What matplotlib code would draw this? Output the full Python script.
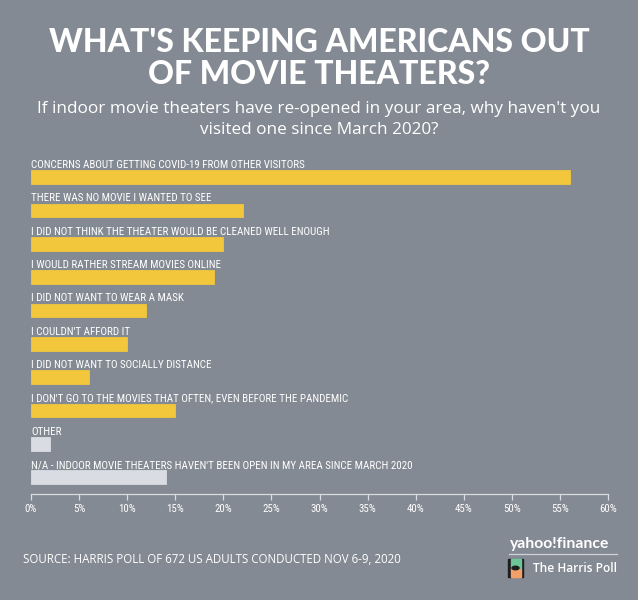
import matplotlib
matplotlib.use("Agg")
import matplotlib.pyplot as plt
from matplotlib import font_manager
from matplotlib.patches import Rectangle, Ellipse

reasons = [
    "CONCERNS ABOUT GETTING COVID-19 FROM OTHER VISITORS",
    "THERE WAS NO MOVIE I WANTED TO SEE",
    "I DID NOT THINK THE THEATER WOULD BE CLEANED WELL ENOUGH",
    "I WOULD RATHER STREAM MOVIES ONLINE",
    "I DID NOT WANT TO WEAR A MASK",
    "I COULDN'T AFFORD IT",
    "I DID NOT WANT TO SOCIALLY DISTANCE",
    "I DON'T GO TO THE MOVIES THAT OFTEN, EVEN BEFORE THE PANDEMIC",
    "OTHER",
    "N/A - INDOOR MOVIE THEATERS HAVEN'T BEEN OPEN IN MY AREA SINCE MARCH 2020",
]
percent = [56, 22, 20, 19, 12, 10, 6, 15, 2, 14]
highlight = [True] * 8 + [False, False]
ticks = list(range(0, 61, 5))

BG = "#848a93"
YELLOW = "#f2c73b"
LIGHT = "#d9dce2"

names = {f.name for f in font_manager.fontManager.ttflist}


def pick(*cands):
    for c in cands:
        if c in names:
            return c
    return "DejaVu Sans"


narrow = pick("Liberation Sans Narrow", "Roboto Condensed", "Open Sans Condensed", "Liberation Sans")
heavy = pick("Lato", "Inter", "Roboto", "DejaVu Sans")
body = pick("Open Sans", "Noto Sans", "DejaVu Sans")

fig = plt.figure(figsize=(6.38, 6.0), dpi=100, facecolor=BG)
ax = fig.add_axes([31 / 638, 1 - 494 / 600, 577 / 638, 339 / 600])
ax.set_facecolor(BG)

ypos = list(range(len(reasons)))
colors = [YELLOW if h else LIGHT for h in highlight]
ax.barh(ypos, percent, height=0.41, color=colors, edgecolor=colors, linewidth=0.6)
for y, lab in zip(ypos, reasons):
    ax.text(0, y - 0.27, lab, color="white", fontsize=7.9, family=narrow,
            ha="left", va="baseline")

ax.set_xlim(0, 60)
ax.set_ylim(9.51, -0.66)
ax.set_xticks(ticks)
ax.set_xticklabels([f"{t}%" for t in ticks], family=narrow, fontsize=7.8, color="white")
ax.set_yticks([])
for s in ["top", "right", "left"]:
    ax.spines[s].set_visible(False)
ax.spines["bottom"].set_color(LIGHT)
ax.spines["bottom"].set_linewidth(0.9)
ax.tick_params(axis="x", direction="out", length=4, width=0.9, color=LIGHT, pad=3)

fig.text(0.5, 1 - 52 / 600, "WHAT'S KEEPING AMERICANS OUT", ha="center", va="baseline",
         color="white", fontsize=23, fontweight="black", family=heavy)
fig.text(0.5, 1 - 84 / 600, "OF MOVIE THEATERS?", ha="center", va="baseline",
         color="white", fontsize=23, fontweight="black", family=heavy)
fig.text(0.5, 1 - 113 / 600, "If indoor movie theaters have re-opened in your area, why haven't you",
         ha="center", va="baseline", color="white", fontsize=12.3, family=body)
fig.text(0.5, 1 - 134 / 600, "visited one since March 2020?",
         ha="center", va="baseline", color="white", fontsize=12.3, family=body)

fig.text(23 / 638, 1 - 563 / 600, "SOURCE: HARRIS POLL OF 672 US ADULTS CONDUCTED NOV 6-9, 2020",
         ha="left", va="baseline", color="white", fontsize=8.3, family=body)

# logos
fig.text(609 / 638, 1 - 548 / 600, "yahoo!finance", ha="right", va="baseline", color="white",
         fontsize=11.3, fontweight="bold", family=heavy)
fig.add_artist(plt.Line2D([509 / 638, 617 / 638], [1 - 554 / 600, 1 - 554 / 600],
                          color="#cfd3d9", linewidth=0.9))
fig.text(617 / 638, 1 - 572 / 600, "The Harris Poll", ha="right", va="baseline", color="white",
         fontsize=8.6, fontweight="semibold", family=body)
fig.add_artist(Rectangle((508 / 638, 1 - 577 / 600), 2.5 / 638, 18 / 600, color="#1e1e1e"))
fig.add_artist(Rectangle((520.5 / 638, 1 - 577 / 600), 2.5 / 638, 18 / 600, color="#1e1e1e"))
fig.add_artist(Rectangle((510.5 / 638, 1 - 577 / 600), 10 / 638, 9 / 600, color="#f2a06a"))
fig.add_artist(Rectangle((510.5 / 638, 1 - 568 / 600), 10 / 638, 9 / 600, color="#6fc59a"))
fig.add_artist(Ellipse((515.5 / 638, 1 - 568 / 600), 7 / 638, 3.5 / 600, color="#1e1e1e"))

fig.savefig("out.png", dpi=100, facecolor=BG)
